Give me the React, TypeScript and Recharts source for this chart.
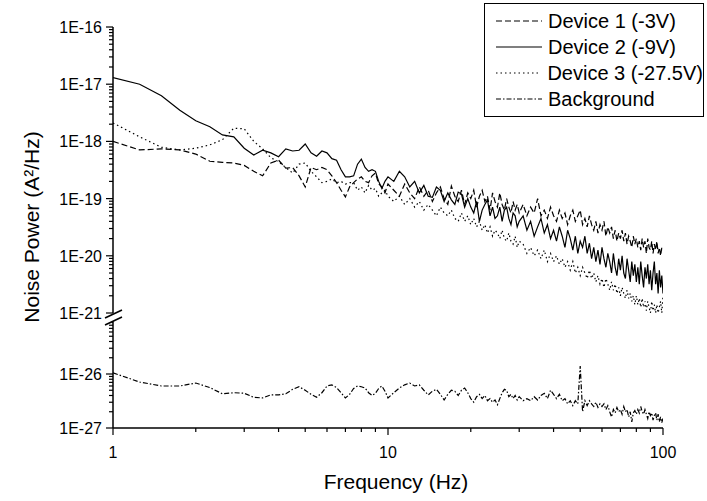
import { Label, Legend, Line, LineChart, XAxis, YAxis } from "recharts";

const font = "'Liberation Sans', Arial, sans-serif";

// frequency (Hz): 0.25 Hz steps up to 10, 0.5 Hz up to 30, 1 Hz up to 100
const freq = [
  1, 1.25, 1.5, 1.75, 2, 2.25, 2.5, 2.75, 3, 3.25, 3.5, 3.75, 4, 4.25, 4.5, 4.75, 5, 5.25, 5.5, 5.75,
  6, 6.25, 6.5, 6.75, 7, 7.25, 7.5, 7.75, 8, 8.25, 8.5, 8.75, 9, 9.25, 9.5, 9.75, 10,
  10.5, 11, 11.5, 12, 12.5, 13, 13.5, 14, 14.5, 15, 15.5, 16, 16.5, 17, 17.5, 18, 18.5, 19, 19.5, 20,
  20.5, 21, 21.5, 22, 22.5, 23, 23.5, 24, 24.5, 25, 25.5, 26, 26.5, 27, 27.5, 28, 28.5, 29, 29.5, 30,
  31, 32, 33, 34, 35, 36, 37, 38, 39, 40, 41, 42, 43, 44, 45, 46, 47, 48, 49, 50,
  51, 52, 53, 54, 55, 56, 57, 58, 59, 60, 61, 62, 63, 64, 65, 66, 67, 68, 69, 70,
  71, 72, 73, 74, 75, 76, 77, 78, 79, 80, 81, 82, 83, 84, 85, 86, 87, 88, 89, 90,
  91, 92, 93, 94, 95, 96, 97, 98, 99, 100,
];

const device1 = [
  1.0e-18, 7.1e-19, 7.4e-19, 7.1e-19, 6.0e-19, 4.5e-19, 4.3e-19, 4.2e-19, 3.8e-19, 3.0e-19,
  2.5e-19, 4.2e-19, 4.7e-19, 3.4e-19, 3.5e-19, 2.5e-19, 1.6e-19, 3.5e-19, 3.2e-19, 3.5e-19,
  3.2e-19, 2.5e-19, 1.9e-19, 1.4e-19, 1.07e-19, 1.6e-19, 1.9e-19, 2.2e-19, 2.4e-19, 2.0e-19,
  1.9e-19, 2.5e-19, 2.8e-19, 1.8e-19, 1.6e-19, 1.26e-19, 1.8e-19,
  1.4e-19, 1.1e-19, 1.8e-19, 1.26e-19, 1.0e-19, 1.6e-19, 1.1e-19, 1.4e-19, 8.9e-20, 1.26e-19,
  1.6e-19, 1.0e-19, 7.9e-20, 1.66e-19, 1.1e-19, 8.9e-20, 1.4e-19, 7.9e-20, 1.26e-19, 1.0e-19,
  1.4e-19, 7.1e-20, 1.1e-19, 1.4e-19, 8.9e-20, 1.1e-19, 6.3e-20, 1.26e-19, 8.9e-20, 7.1e-20,
  1.26e-19, 7.9e-20, 6.3e-20, 1.0e-19, 7.1e-20, 5.6e-20, 8.9e-20, 6.3e-20, 7.9e-20, 5.6e-20,
  7.9e-20, 5.0e-20, 7.1e-20, 5.6e-20, 1.0e-19, 5.0e-20, 6.3e-20, 4.5e-20, 7.1e-20, 5.0e-20,
  4.0e-20, 6.3e-20, 4.5e-20, 5.6e-20, 3.5e-20, 5.0e-20, 6.3e-20, 4.0e-20, 5.0e-20, 6.3e-20,
  3.5e-20, 4.5e-20, 3.2e-20, 5.0e-20, 3.5e-20, 2.8e-20, 4.0e-20, 2.5e-20, 3.5e-20, 2.8e-20,
  4.0e-20, 2.2e-20, 3.2e-20, 2.5e-20, 3.2e-20, 2.0e-20, 2.8e-20, 1.8e-20, 2.5e-20, 2.0e-20,
  2.8e-20, 1.8e-20, 2.5e-20, 1.6e-20, 2.2e-20, 1.8e-20, 1.4e-20, 2.2e-20, 1.6e-20, 2.0e-20,
  1.4e-20, 1.8e-20, 1.26e-20, 2.0e-20, 1.4e-20, 1.8e-20, 1.1e-20, 2.0e-20, 1.4e-20, 1.26e-20,
  1.8e-20, 1.1e-20, 1.6e-20, 1.26e-20, 1.8e-20, 1.1e-20, 1.4e-20, 1.0e-20, 1.4e-20, 1.26e-20,
];

const device2 = [
  1.3e-17, 1.0e-17, 6.3e-18, 3.5e-18, 2.3e-18, 1.8e-18, 1.3e-18, 1.2e-18, 7.6e-19, 5.8e-19,
  7.0e-19, 6.3e-19, 5.4e-19, 7.4e-19, 6.8e-19, 7.0e-19, 9.0e-19, 6.3e-19, 5.5e-19, 6.8e-19,
  6.3e-19, 5.0e-19, 4.7e-19, 3.2e-19, 2.4e-19, 2.4e-19, 2.5e-19, 4.0e-19, 4.9e-19, 3.5e-19,
  3.0e-19, 3.2e-19, 3.0e-19, 2.0e-19, 1.5e-19, 2.0e-19, 2.4e-19,
  2.0e-19, 3.0e-19, 2.4e-19, 1.6e-19, 2.0e-19, 1.26e-19, 1.7e-19, 1.1e-19, 1.05e-19, 1.6e-19,
  1.4e-19, 8.9e-20, 1.26e-19, 9.5e-20, 7.9e-20, 1.3e-19, 1.2e-19, 7.1e-20, 1.0e-19, 7.1e-20,
  5.6e-20, 8.9e-20, 4.0e-20, 6.3e-20, 7.9e-20, 9.5e-20, 5.0e-20, 7.1e-20, 4.5e-20, 5.0e-20,
  7.1e-20, 4.0e-20, 6.3e-20, 7.1e-20, 4.5e-20, 3.5e-20, 5.6e-20, 5.0e-20, 3.2e-20, 4.0e-20,
  5.0e-20, 2.8e-20, 4.0e-20, 2.2e-20, 3.2e-20, 4.5e-20, 2.5e-20, 3.5e-20, 2.0e-20, 2.8e-20,
  1.8e-20, 3.2e-20, 2.2e-20, 1.4e-20, 2.8e-20, 2.0e-20, 1.26e-20, 2.2e-20, 1.1e-20, 1.8e-20,
  1.4e-20, 2.2e-20, 1.1e-20, 1.66e-20, 8.9e-21, 1.4e-20, 7.9e-21, 1.26e-20, 7.1e-21, 1.4e-20,
  8.9e-21, 6.3e-21, 1.1e-20, 7.9e-21, 5.0e-21, 1.1e-20, 6.3e-21, 4.5e-21, 8.9e-21, 5.6e-21,
  1.0e-20, 5.0e-21, 4.0e-21, 8.9e-21, 5.6e-21, 3.5e-21, 7.9e-21, 4.5e-21, 7.1e-21, 3.5e-21,
  6.3e-21, 3.2e-21, 7.9e-21, 4.5e-21, 2.8e-21, 6.3e-21, 4.0e-21, 7.1e-21, 3.2e-21, 5.6e-21,
  2.5e-21, 5.0e-21, 7.9e-21, 3.2e-21, 5.0e-21, 2.2e-21, 5.6e-21, 2.8e-21, 4.5e-21, 2.2e-21,
];

const device3 = [
  2.1e-18, 1.2e-18, 7.9e-19, 7.1e-19, 7.6e-19, 8.7e-19, 1.07e-18, 1.7e-18, 1.66e-18, 1.0e-18,
  7.4e-19, 5.2e-19, 4.4e-19, 3.5e-19, 2.8e-19, 4.0e-19, 4.2e-19, 3.0e-19, 2.4e-19, 1.9e-19,
  2.0e-19, 2.2e-19, 1.9e-19, 2.0e-19, 1.8e-19, 1.9e-19, 1.9e-19, 1.4e-19, 1.6e-19, 1.26e-19,
  1.7e-19, 1.4e-19, 1.5e-19, 1.1e-19, 1.26e-19, 1.4e-19, 1.1e-19,
  8.9e-20, 1.1e-19, 7.9e-20, 1.0e-19, 7.1e-20, 8.9e-20, 6.3e-20, 7.9e-20, 6.3e-20, 5.0e-20,
  7.1e-20, 5.6e-20, 5.0e-20, 6.3e-20, 4.5e-20, 4.0e-20, 5.6e-20, 4.0e-20, 5.0e-20, 3.5e-20,
  4.5e-20, 3.2e-20, 4.0e-20, 2.8e-20, 3.5e-20, 2.5e-20, 3.2e-20, 2.2e-20, 2.8e-20, 2.5e-20,
  2.0e-20, 2.8e-20, 2.0e-20, 1.8e-20, 2.5e-20, 1.8e-20, 1.6e-20, 2.2e-20, 1.4e-20, 1.8e-20,
  1.6e-20, 1.1e-20, 1.4e-20, 1.0e-20, 1.26e-20, 8.9e-21, 1.26e-20, 7.9e-21, 1.1e-20, 7.9e-21,
  1.0e-20, 7.1e-21, 8.9e-21, 6.3e-21, 7.9e-21, 5.6e-21, 7.9e-21, 5.0e-21, 6.3e-21, 4.5e-21,
  6.3e-21, 5.0e-21, 4.0e-21, 5.6e-21, 4.0e-21, 5.0e-21, 3.5e-21, 4.5e-21, 3.2e-21, 4.0e-21,
  2.8e-21, 4.0e-21, 3.2e-21, 2.5e-21, 3.5e-21, 2.5e-21, 3.2e-21, 2.2e-21, 2.8e-21, 2.0e-21,
  2.8e-21, 2.2e-21, 1.8e-21, 2.5e-21, 1.8e-21, 2.2e-21, 1.6e-21, 2.0e-21, 1.4e-21, 2.0e-21,
  1.4e-21, 1.8e-21, 1.26e-21, 1.8e-21, 1.26e-21, 1.6e-21, 1.1e-21, 1.6e-21, 1.26e-21, 1.0e-21,
  1.6e-21, 1.1e-21, 1.4e-21, 1.0e-21, 1.4e-21, 1.0e-21, 1.26e-21, 1.6e-21, 1.0e-21, 2.0e-21,
];

const background = [
  1.05e-26, 7.1e-27, 6.0e-27, 6.0e-27, 6.8e-27, 5.6e-27, 4.3e-27, 4.5e-27, 4.4e-27, 3.7e-27,
  3.6e-27, 4.1e-27, 4.1e-27, 4.3e-27, 5.2e-27, 5.8e-27, 5.0e-27, 4.2e-27, 3.7e-27, 4.5e-27,
  6.0e-27, 6.3e-27, 5.6e-27, 4.5e-27, 3.6e-27, 4.2e-27, 5.4e-27, 6.0e-27, 5.8e-27, 5.5e-27,
  4.5e-27, 4.0e-27, 4.4e-27, 5.4e-27, 6.0e-27, 4.8e-27, 3.6e-27,
  4.5e-27, 5.5e-27, 6.3e-27, 6.8e-27, 6.0e-27, 6.3e-27, 5.0e-27, 4.1e-27, 4.8e-27, 5.2e-27,
  4.2e-27, 3.3e-27, 4.2e-27, 5.0e-27, 4.8e-27, 4.0e-27, 5.0e-27, 5.5e-27, 4.5e-27, 3.5e-27,
  3.0e-27, 3.8e-27, 4.2e-27, 3.5e-27, 4.0e-27, 3.2e-27, 3.5e-27, 3.0e-27, 3.3e-27, 2.7e-27,
  3.5e-27, 4.5e-27, 5.2e-27, 5.0e-27, 3.8e-27, 4.2e-27, 3.5e-27, 4.0e-27, 3.3e-27, 3.8e-27,
  3.2e-27, 3.5e-27, 3.2e-27, 3.8e-27, 3.3e-27, 4.0e-27, 4.4e-27, 3.5e-27, 5.0e-27, 4.2e-27,
  3.5e-27, 4.2e-27, 3.2e-27, 3.5e-27, 2.8e-27, 3.2e-27, 2.6e-27, 3.2e-27, 2.8e-27, 1.4e-26,
  2.0e-27, 3.2e-27, 2.6e-27, 3.2e-27, 2.8e-27, 2.5e-27, 3.0e-27, 2.4e-27, 2.8e-27, 2.5e-27,
  2.8e-27, 2.2e-27, 2.6e-27, 2.0e-27, 1.6e-27, 2.2e-27, 1.9e-27, 2.4e-27, 2.0e-27, 2.2e-27,
  1.8e-27, 2.5e-27, 2.0e-27, 2.2e-27, 1.6e-27, 2.0e-27, 1.3e-27, 1.9e-27, 2.1e-27, 1.8e-27,
  2.2e-27, 1.9e-27, 2.5e-27, 2.0e-27, 1.8e-27, 2.2e-27, 1.8e-27, 1.5e-27, 2.0e-27, 1.7e-27,
  1.9e-27, 1.4e-27, 1.7e-27, 1.9e-27, 1.4e-27, 1.8e-27, 1.3e-27, 1.6e-27, 1.26e-27, 1.5e-27,
];

const upperMajors = [1e-16, 1e-17, 1e-18, 1e-19, 1e-20, 1e-21];
const upperLabels = ["1E-16", "1E-17", "1E-18", "1E-19", "1E-20", "1E-21"];
const lowerMajors = [1e-26, 1e-27];
const lowerLabels = ["1E-26", "1E-27"];
const xMajors = [1, 10, 100];
const xLabels = ["1", "10", "100"];
const minorSteps = [2, 3, 4, 5, 6, 7, 8, 9];

const series = [
  { key: "d1", name: "Device 1 (-3V)", dash: "6 3" },
  { key: "d2", name: "Device 2 (-9V)", dash: undefined },
  { key: "d3", name: "Device 3 (-27.5V)", dash: "1.5 3" },
  { key: "bg", name: "Background", dash: "5 2 1.5 2" },
];

const table = freq.map((f, i) => ({
  f,
  d1: device1[i],
  d2: device2[i],
  d3: device3[i],
  bg: background[i],
}));

function decadeTicks(starts: number[]) {
  const out: number[] = [];
  starts.forEach((s) => {
    out.push(s);
    minorSteps.forEach((k) => out.push(s * k));
  });
  return out;
}

const upperTicks = [...decadeTicks([1e-21, 1e-20, 1e-19, 1e-18, 1e-17]), 1e-16];
const lowerTicks = decadeTicks([1e-27, 1e-26]);
const xTicks = [...decadeTicks([1, 10]), 100];

const findMajor = (majors: number[], v: number) =>
  majors.findIndex((m) => Math.abs(v / m - 1) < 1e-6);

const makeYTick = (majors: number[], labels: string[]) => (props: any) => {
  const { x, y, payload } = props;
  const idx = findMajor(majors, payload.value);
  const major = idx >= 0;
  return (
    <g>
      <line x1={x - (major ? 7 : 4)} x2={x} y1={y} y2={y} stroke="#000" strokeWidth={1.2} />
      {major && (
        <text x={x - 11} y={y + 6} textAnchor="end" fontSize={16} fontFamily={font} fill="#000">
          {labels[idx]}
        </text>
      )}
    </g>
  );
};

const XTick = (props: any) => {
  const { x, y, payload } = props;
  const idx = findMajor(xMajors, payload.value);
  const major = idx >= 0;
  return (
    <g>
      <line x1={x} x2={x} y1={y} y2={y + (major ? 7 : 4)} stroke="#000" strokeWidth={1.2} />
      {major && (
        <text x={x} y={y + 30} textAnchor="middle" fontSize={16} fontFamily={font} fill="#000">
          {xLabels[idx]}
        </text>
      )}
    </g>
  );
};

function LegendBox() {
  return (
    <div
      style={{
        width: 220,
        height: 114,
        boxSizing: "border-box",
        border: "1.3px solid #000",
        background: "#fff",
        padding: "4px 0 0 11px",
        fontFamily: font,
        fontSize: 20,
        color: "#000",
      }}
    >
      {series.map((s) => (
        <div key={s.key} style={{ display: "flex", alignItems: "center", height: 26 }}>
          <svg width={46} height={10}>
            <line x1={0} x2={46} y1={5} y2={5} stroke="#000" strokeWidth={1.2} strokeDasharray={s.dash} />
          </svg>
          <span style={{ marginLeft: 6, whiteSpace: "nowrap" }}>{s.name}</span>
        </div>
      ))}
    </div>
  );
}

const axisStroke = { stroke: "#000", strokeWidth: 1.5 };

export default function App() {
  return (
    <div style={{ position: "absolute", left: 0, top: 0, width: 707, height: 501, background: "#fff" }}>
      <div style={{ position: "absolute", left: 0, top: 0 }}>
        <LineChart width={707} height={501} data={table} margin={{ top: 27, right: 44, bottom: 188, left: 13 }}>
          <XAxis type="number" dataKey="f" scale="log" domain={[1, 100]} allowDataOverflow hide />
          <YAxis
            type="number"
            scale="log"
            domain={[1e-21, 1e-16]}
            allowDataOverflow
            ticks={upperTicks}
            interval={0}
            width={100}
            tickSize={0}
            tickMargin={0}
            tickLine={false}
            axisLine={axisStroke}
            tick={makeYTick(upperMajors, upperLabels)}
          >
            <Label
              content={() => (
                <text
                  x={31}
                  y={227}
                  transform="rotate(-90 31 227)"
                  textAnchor="middle"
                  dominantBaseline="central"
                  fontSize={21}
                  fontFamily={font}
                  fill="#000"
                >
                  Noise Power (A²/Hz)
                </text>
              )}
            />
          </YAxis>
          {series.slice(0, 3).map((s) => (
            <Line
              key={s.key}
              type="linear"
              dataKey={s.key}
              name={s.name}
              stroke="#000"
              strokeWidth={1.2}
              strokeDasharray={s.dash}
              dot={false}
              isAnimationActive={false}
            />
          ))}
          <Legend
            layout="vertical"
            align="center"
            verticalAlign="middle"
            content={() => <LegendBox />}
            wrapperStyle={{ left: 484, top: 3, width: 220 }}
          />
        </LineChart>
      </div>
      <div style={{ position: "absolute", left: 0, top: 0 }}>
        <LineChart width={707} height={501} data={table} margin={{ top: 320, right: 44, bottom: 0, left: 13 }}>
          <XAxis
            type="number"
            dataKey="f"
            scale="log"
            domain={[1, 100]}
            allowDataOverflow
            ticks={xTicks}
            interval={0}
            height={73}
            tickSize={0}
            tickMargin={0}
            tickLine={false}
            axisLine={axisStroke}
            tick={XTick}
          >
            <Label
              content={() => (
                <text x={396} y={489} textAnchor="middle" fontSize={21} fontFamily={font} fill="#000">
                  Frequency (Hz)
                </text>
              )}
            />
          </XAxis>
          <YAxis
            type="number"
            scale="log"
            domain={[1e-27, 1e-25]}
            allowDataOverflow
            ticks={lowerTicks}
            interval={0}
            width={100}
            tickSize={0}
            tickMargin={0}
            tickLine={false}
            axisLine={axisStroke}
            tick={makeYTick(lowerMajors, lowerLabels)}
          />
          <Line
            type="linear"
            dataKey="bg"
            name="Background"
            stroke="#000"
            strokeWidth={1.2}
            strokeDasharray={series[3].dash}
            dot={false}
            isAnimationActive={false}
          />
        </LineChart>
      </div>
      <svg width={707} height={501} style={{ position: "absolute", left: 0, top: 0, pointerEvents: "none" }}>
        <polygon points="106,318 121,311 121,318 106,325" fill="#fff" />
        <line x1={105} y1={318} x2={122} y2={310} stroke="#000" strokeWidth={1.5} />
        <line x1={105} y1={325} x2={122} y2={317} stroke="#000" strokeWidth={1.5} />
      </svg>
    </div>
  );
}
